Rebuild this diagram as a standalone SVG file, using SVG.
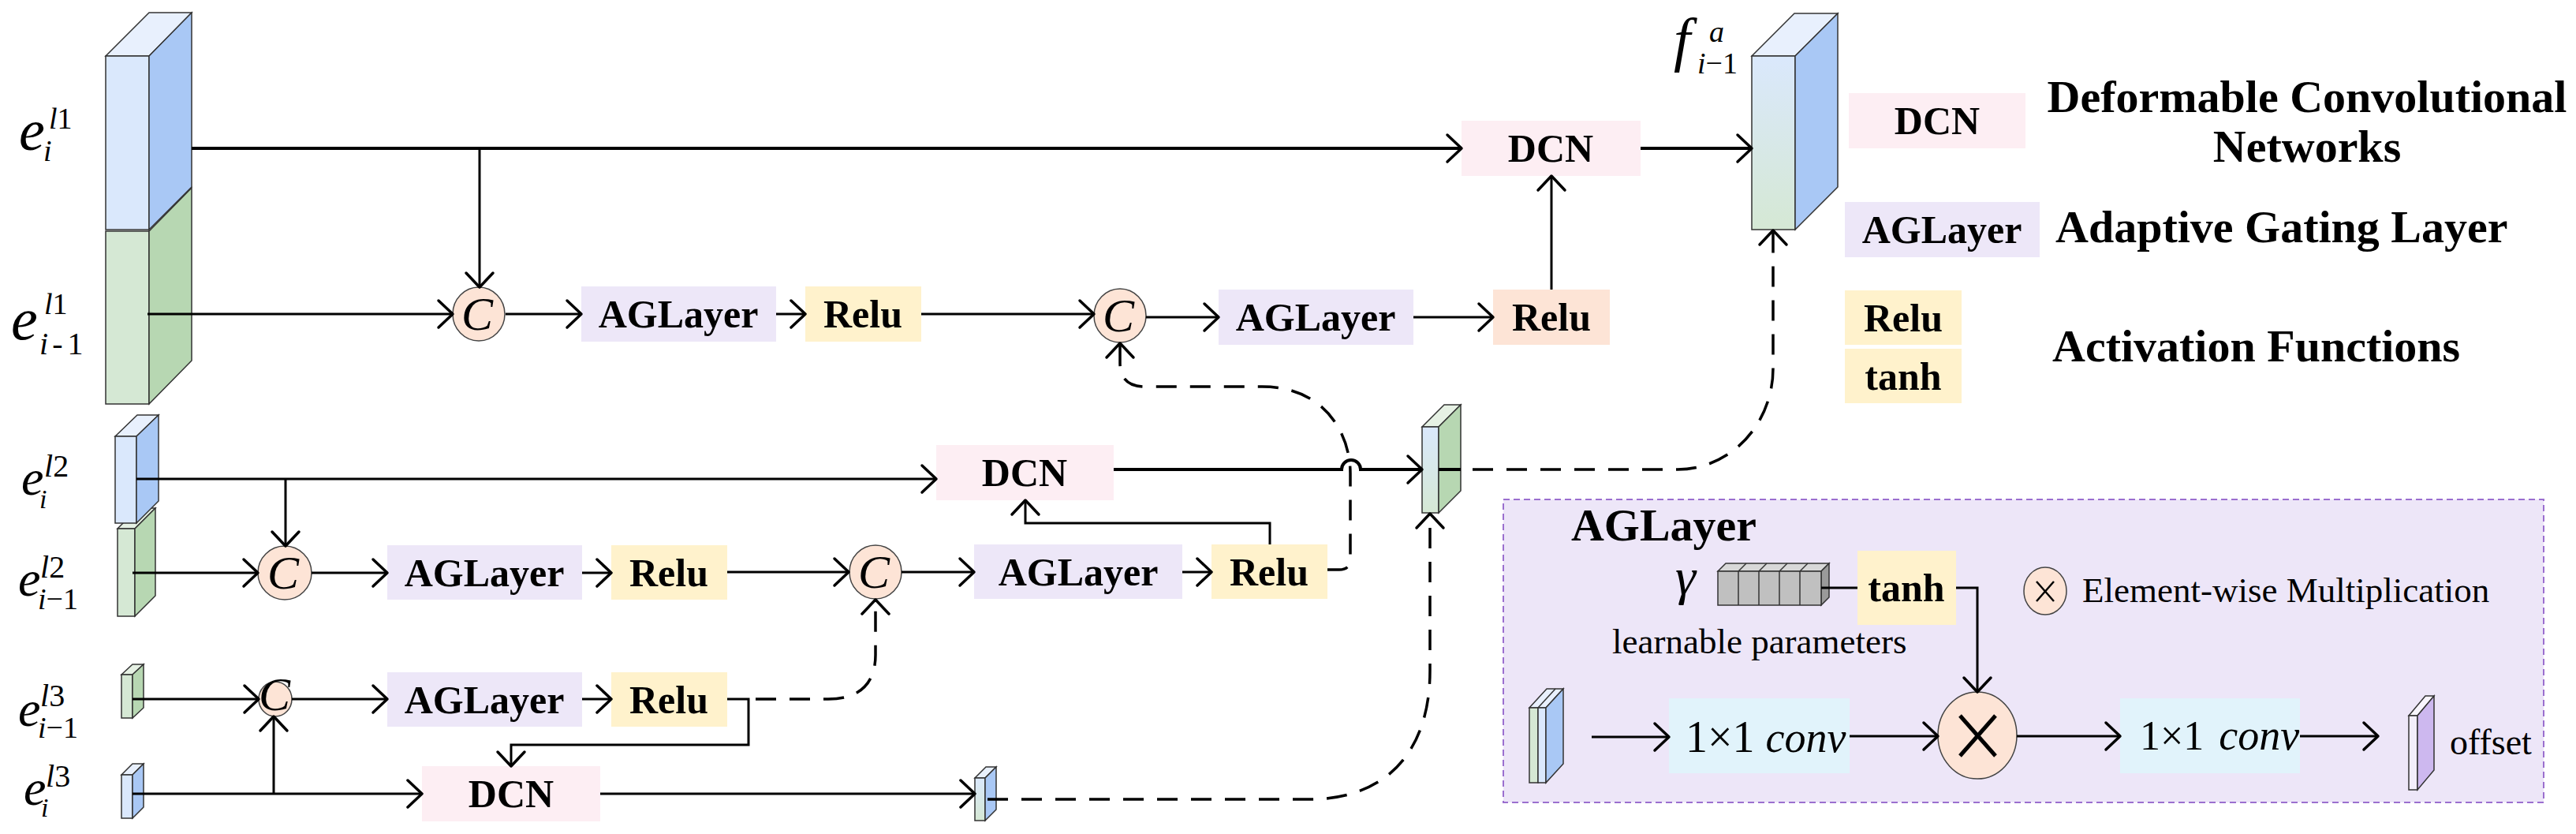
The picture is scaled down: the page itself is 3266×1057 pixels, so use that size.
<svg xmlns="http://www.w3.org/2000/svg" width="3266" height="1057" viewBox="0 0 3266 1057">
<style>
.ln{fill:none;stroke:#000;stroke-width:3}
.tk{fill:none;stroke:#000;stroke-width:4}
.ds{fill:none;stroke:#000;stroke-width:3.5;stroke-dasharray:26 17}
.lbl{font-family:"Liberation Serif","Times New Roman",serif;font-weight:bold;font-size:50px;text-anchor:middle;fill:#000}
.leg{font-family:"Liberation Serif","Times New Roman",serif;font-weight:bold;font-size:58px;fill:#000}
.reg{font-family:"Liberation Serif","Times New Roman",serif;fill:#000}
.it{font-family:"Liberation Serif","Times New Roman",serif;font-style:italic;fill:#000}
.ag{fill:#ede7f8}
.relu{fill:#fff2cc}
.relu2{fill:#fde4d6}
.dcn{fill:#fdeef3}
.conv{fill:#e1f3fb}
.cc{fill:#fde4d6;stroke:#444;stroke-width:1.5}
.ct{font-family:"Liberation Serif","Times New Roman",serif;font-style:italic;font-size:60px;text-anchor:middle;fill:#000}
.cb{stroke:#333;stroke-width:1.5}
.bf{fill:#dae8fc}.bs{fill:#a9c8f5}.bt{fill:#e8f0fd}
.gf{fill:#d5e8d4}.gs{fill:#b7d7b2}.gt{fill:#e6f1e4}
.gr{fill:url(#bg)}
</style>
<defs>
<linearGradient id="bg" x1="0" y1="0" x2="0" y2="1">
<stop offset="0" stop-color="#dae8fc"/><stop offset="1" stop-color="#d5e8d4"/>
</linearGradient>
<marker id="ar" markerUnits="userSpaceOnUse" markerWidth="24" markerHeight="38" refX="19" refY="18" orient="auto" overflow="visible">
<path d="M1,1 L19,18 L1,35" fill="none" stroke="#000" stroke-width="3.5" stroke-linecap="round" stroke-linejoin="round"/>
</marker>
</defs>
<rect width="3266" height="1057" fill="#fff"/>

<!-- AGLayer detail panel -->
<g id="aglayer-panel">
<rect x="1906" y="633" width="1319" height="384" fill="#ede6f8" stroke="#9b6fcf" stroke-width="2" stroke-dasharray="8 5"/>
<text class="leg" x="1992" y="685" font-size="56" textLength="235" lengthAdjust="spacingAndGlyphs">AGLayer</text>
<text class="it" x="2124" y="753" font-size="66">γ</text>
<g id="gamma-stack" class="cb">
<polygon points="2178,724 2188,714 2319,714 2309,724" fill="#d8d8d8"/>
<polygon points="2309,724 2319,714 2319,757 2309,767" fill="#9a9a9a"/>
<rect x="2178" y="724" width="131" height="43" fill="#c0c0c0"/>
<line x1="2204" y1="724" x2="2204" y2="767"/><line x1="2230" y1="724" x2="2230" y2="767"/>
<line x1="2256" y1="724" x2="2256" y2="767"/><line x1="2282" y1="724" x2="2282" y2="767"/>
<line x1="2204" y1="724" x2="2214" y2="714"/><line x1="2230" y1="724" x2="2240" y2="714"/>
<line x1="2256" y1="724" x2="2266" y2="714"/><line x1="2282" y1="724" x2="2292" y2="714"/>
</g>
<text class="reg" x="2044" y="828" font-size="45">learnable parameters</text>
<g id="p-tanh"><rect class="relu" x="2355" y="698" width="125" height="94"/><text class="lbl" x="2417" y="762" font-size="50">tanh</text></g>
<g id="p-mult-legend">
<ellipse class="cc" cx="2593" cy="749" rx="27" ry="30"/>
<line x1="2582" y1="737" x2="2604" y2="762" stroke="#000" stroke-width="2.5"/>
<line x1="2604" y1="737" x2="2582" y2="762" stroke="#000" stroke-width="2.5"/>
<text class="reg" x="2640" y="763" font-size="45">Element-wise Multiplication</text>
</g>
<g id="p-input" class="cb">
<polygon points="1939,897 1961,873 1982,873 1960,897" fill="#e8f0fd"/>
<line x1="1950" y1="897" x2="1972" y2="873"/>
<rect x="1939" y="897" width="11" height="95" fill="#d5e8d4"/>
<rect x="1950" y="897" width="10" height="95" fill="#dae8fc"/>
<polygon points="1960,897 1982,873 1982,968 1960,992" fill="#a9c8f5"/>
</g>
<g id="p-conv1"><rect class="conv" x="2116" y="885" width="229" height="95"/>
<text x="2137" y="953"><tspan class="reg" font-size="56">1×1 </tspan><tspan class="it" font-size="54">conv</tspan></text></g>
<g id="p-mult">
<ellipse class="cc" cx="2507" cy="932" rx="50" ry="55"/>
<line x1="2485" y1="907" x2="2530" y2="958" stroke="#000" stroke-width="5"/>
<line x1="2530" y1="907" x2="2485" y2="958" stroke="#000" stroke-width="5"/>
</g>
<g id="p-conv2"><rect class="conv" x="2688" y="885" width="228" height="95"/>
<text x="2713" y="950"><tspan class="reg" font-size="52">1×1 </tspan><tspan class="it" font-size="54" dx="6">conv</tspan></text></g>
<g id="p-offset" class="cb">
<polygon points="3054,907 3075,882 3086,882 3065,907" fill="#f8f5fd"/>
<rect x="3054" y="907" width="11" height="94" fill="#f3eefb"/>
<polygon points="3065,907 3086,882 3086,976 3065,1001" fill="#cdb8ef"/>
</g>
<text class="reg" x="3106" y="956" font-size="46">offset</text>
</g>

<!-- input feature blocks -->
<g id="e-l1">
<g class="cb">
<rect class="gf" x="134" y="293" width="55" height="219"/>
<polygon class="gs" points="189,293 243,238 243,457 189,512"/>
<polygon class="bt" points="134,71 189,16 243,16 189,71"/>
<rect class="bf" x="134" y="71" width="55" height="220"/>
<polygon class="bs" points="189,71 243,16 243,237 189,291"/>
</g>
<text class="it" x="24" y="190" font-size="74">e</text>
<text class="it" x="62" y="163" font-size="38">l<tspan font-style="normal">1</tspan></text>
<text class="it" x="55" y="204" font-size="38">i</text>
<text class="it" x="14" y="430" font-size="76">e</text>
<text class="it" x="56" y="398" font-size="38">l<tspan font-style="normal">1</tspan></text>
<text class="it" x="50" y="449" font-size="40">i<tspan font-style="normal" dx="5">-</tspan><tspan font-style="normal" dx="6">1</tspan></text>
</g>

<g id="e-l2">
<g class="cb">
<polygon class="gt" points="149,670 175,644 197,644 171,670"/>
<rect class="gf" x="149" y="670" width="22" height="111"/>
<polygon class="gs" points="171,670 197,644 197,755 171,781"/>
<polygon class="bt" points="146,553 174,526 201,526 173,553"/>
<rect class="bf" x="146" y="553" width="27" height="110"/>
<polygon class="bs" points="173,553 201,526 201,635 173,663"/>
</g>
<text class="it" x="27" y="627" font-size="64">e</text>
<text class="it" x="56" y="604" font-size="40">l<tspan font-style="normal">2</tspan></text>
<text class="it" x="50" y="644" font-size="34">i</text>
<text class="it" x="23" y="755" font-size="64">e</text>
<text class="it" x="51" y="732" font-size="40">l<tspan font-style="normal">2</tspan></text>
<text class="it" x="48" y="772" font-size="38">i<tspan font-style="normal">−1</tspan></text>
</g>

<g id="e-l3">
<g class="cb">
<polygon class="gt" points="154,855 168,842 182,842 168,855"/>
<rect class="gf" x="154" y="855" width="14" height="55"/>
<polygon class="gs" points="168,855 182,842 182,897 168,910"/>
<polygon class="bt" points="154,982 168,968 182,968 168,982"/>
<rect class="bf" x="154" y="982" width="14" height="55"/>
<polygon class="bs" points="168,982 182,968 182,1023 168,1037"/>
</g>
<text class="it" x="23" y="920" font-size="64">e</text>
<text class="it" x="51" y="895" font-size="40">l<tspan font-style="normal">3</tspan></text>
<text class="it" x="48" y="935" font-size="38">i<tspan font-style="normal">−1</tspan></text>
<text class="it" x="30" y="1020" font-size="64">e</text>
<text class="it" x="58" y="997" font-size="40">l<tspan font-style="normal">3</tspan></text>
<text class="it" x="52" y="1035" font-size="34">i</text>
</g>

<!-- processing nodes -->
<g id="c1"><ellipse class="cc" cx="607" cy="398" rx="33" ry="34"/><text class="ct" x="605" y="418">C</text></g>
<g id="ag1"><rect class="ag" x="737" y="363" width="247" height="70"/><text class="lbl" x="860" y="415">AGLayer</text></g>
<g id="relu1"><rect class="relu" x="1021" y="363" width="147" height="70"/><text class="lbl" x="1094" y="415">Relu</text></g>
<g id="c2"><ellipse class="cc" cx="1420" cy="400" rx="33" ry="34"/><text class="ct" x="1418" y="420">C</text></g>
<g id="ag2"><rect class="ag" x="1545" y="367" width="247" height="70"/><text class="lbl" x="1668" y="419">AGLayer</text></g>
<g id="relu2"><rect class="relu2" x="1893" y="367" width="148" height="70"/><text class="lbl" x="1967" y="419">Relu</text></g>
<g id="dcn1"><rect class="dcn" x="1853" y="153" width="227" height="70"/><text class="lbl" x="1966" y="205">DCN</text></g>

<g id="c3"><ellipse class="cc" cx="361" cy="726" rx="34" ry="34"/><text class="ct" x="359" y="746">C</text></g>
<g id="ag3"><rect class="ag" x="491" y="691" width="247" height="69"/><text class="lbl" x="614" y="743">AGLayer</text></g>
<g id="relu3"><rect class="relu" x="775" y="691" width="147" height="69"/><text class="lbl" x="848" y="743">Relu</text></g>
<g id="c5"><ellipse class="cc" cx="1110" cy="725" rx="33" ry="34"/><text class="ct" x="1108" y="745">C</text></g>
<g id="ag5"><rect class="ag" x="1235" y="690" width="264" height="69"/><text class="lbl" x="1367" y="742">AGLayer</text></g>
<g id="relu5"><rect class="relu" x="1536" y="690" width="147" height="69"/><text class="lbl" x="1609" y="742">Relu</text></g>
<g id="dcn2"><rect class="dcn" x="1187" y="564" width="225" height="70"/><text class="lbl" x="1299" y="616">DCN</text></g>

<g id="c4"><ellipse class="cc" cx="349" cy="886" rx="21" ry="22"/><text class="ct" x="348" y="900" font-size="40">C</text></g>
<g id="ag4"><rect class="ag" x="491" y="852" width="247" height="69"/><text class="lbl" x="614" y="904">AGLayer</text></g>
<g id="relu4"><rect class="relu" x="775" y="852" width="147" height="69"/><text class="lbl" x="848" y="904">Relu</text></g>
<g id="dcn3"><rect class="dcn" x="535" y="971" width="226" height="70"/><text class="lbl" x="648" y="1023">DCN</text></g>

<!-- intermediate / output feature blocks -->
<g id="mid-block" class="cb">
<polygon class="gt" points="1803,541 1831,513 1852,513 1824,541"/>
<rect class="gr" x="1803" y="541" width="21" height="109"/>
<polygon class="gs" points="1824,541 1852,513 1852,622 1824,650"/>
</g>
<g id="small-block" class="cb">
<polygon class="bt" points="1236,986 1250,972 1263,972 1249,986"/>
<rect class="gr" x="1236" y="986" width="13" height="54"/>
<polygon class="bs" points="1249,986 1263,972 1263,1026 1249,1040"/>
</g>
<g id="f-out">
<g class="cb">
<polygon class="bt" points="2221,71 2275,17 2330,17 2276,71"/>
<rect class="gr" x="2221" y="71" width="55" height="220"/>
<polygon class="bs" points="2276,71 2330,17 2330,237 2276,291"/>
</g>
<text class="it" x="2122" y="76" font-size="76">f</text>
<text class="it" x="2167" y="53" font-size="38">a</text>
<text class="it" x="2152" y="93" font-size="38">i<tspan font-style="normal">−1</tspan></text>
</g>

<!-- legend -->
<g id="legend">
<rect class="dcn" x="2344" y="118" width="224" height="70"/><text class="lbl" x="2456" y="170">DCN</text>
<text class="leg" x="2925" y="142" font-size="56" text-anchor="middle">Deformable Convolutional</text>
<text class="leg" x="2925" y="205" font-size="56" text-anchor="middle">Networks</text>
<rect class="ag" x="2339" y="256" width="247" height="70"/><text class="lbl" x="2462" y="308">AGLayer</text>
<text class="leg" x="2606" y="307">Adaptive Gating Layer</text>
<rect class="relu" x="2339" y="368" width="148" height="69"/><text class="lbl" x="2413" y="420">Relu</text>
<rect class="relu" x="2339" y="442" width="148" height="69"/><text class="lbl" x="2413" y="494">tanh</text>
<text class="leg" x="2602" y="458">Activation Functions</text>
</g>

<!-- connectors -->
<g id="connectors">
<path class="tk" d="M243 188 L1853 188" marker-end="url(#ar)"/>
<path class="ln" d="M608 188 L608 364" marker-end="url(#ar)"/>
<path class="ln" d="M187 398 L574 398" marker-end="url(#ar)"/>
<path class="ln" d="M641 398 L737 398" marker-end="url(#ar)"/>
<path class="ln" d="M984 398 L1021 398" marker-end="url(#ar)"/>
<path class="ln" d="M1168 398 L1387 398" marker-end="url(#ar)"/>
<path class="ln" d="M1453 402 L1545 402" marker-end="url(#ar)"/>
<path class="ln" d="M1792 402 L1893 402" marker-end="url(#ar)"/>
<path class="ln" d="M1967 367 L1967 223" marker-end="url(#ar)"/>
<path class="tk" d="M2080 188 L2221 188" marker-end="url(#ar)"/>

<path class="ln" d="M173 607 L1187 607" marker-end="url(#ar)"/>
<path class="ln" d="M362 607 L362 692" marker-end="url(#ar)"/>
<path class="ln" d="M168 726 L327 726" marker-end="url(#ar)"/>
<path class="ln" d="M395 726 L491 726" marker-end="url(#ar)"/>
<path class="ln" d="M738 726 L775 726" marker-end="url(#ar)"/>
<path class="ln" d="M922 725 L1076 725" marker-end="url(#ar)"/>
<path class="ln" d="M1143 725 L1235 725" marker-end="url(#ar)"/>
<path class="ln" d="M1499 725 L1536 725" marker-end="url(#ar)"/>
<path class="ln" d="M1610 690 L1610 663 L1300 663 L1300 634" marker-end="url(#ar)"/>
<path class="tk" d="M1412 595 L1701 595 A12 12 0 0 1 1725 595 L1803 595" marker-end="url(#ar)"/>
<path class="tk" d="M1824 595 L1852 595"/>

<path class="ln" d="M168 886 L328 886" marker-end="url(#ar)"/>
<path class="ln" d="M370 886 L491 886" marker-end="url(#ar)"/>
<path class="ln" d="M738 886 L775 886" marker-end="url(#ar)"/>
<path class="ln" d="M922 886 L949 886 L949 944 L648 944 L648 971" marker-end="url(#ar)"/>
<path class="ln" d="M168 1006 L535 1006" marker-end="url(#ar)"/>
<path class="ln" d="M347 1006 L347 908" marker-end="url(#ar)"/>
<path class="ln" d="M761 1006 L1236 1006" marker-end="url(#ar)"/>

<path class="ds" d="M958 886 L1050 886 C1090 886 1110 866 1110 830 L1110 760" marker-end="url(#ar)"/>
<path class="ds" d="M1683 722 L1698 722 Q1712 722 1712 708 L1712 600 C1712 550 1680 490 1600 490 L1452 490 Q1420 490 1420 460 L1420 435" marker-end="url(#ar)"/>
<path class="ds" d="M1252 1013 L1660 1013 C1760 1013 1813 950 1813 850 L1813 651" marker-end="url(#ar)"/>
<path class="ds" d="M1867 595 L2127 595 A121 128 0 0 0 2248 467 L2248 292" marker-end="url(#ar)"/>

<path class="ln" d="M2309 745 L2355 745"/>
<path class="ln" d="M2480 745 L2507 745 L2507 877" marker-end="url(#ar)"/>
<path class="ln" d="M2018 934 L2116 934" marker-end="url(#ar)"/>
<path class="ln" d="M2345 933 L2457 933" marker-end="url(#ar)"/>
<path class="ln" d="M2557 933 L2688 933" marker-end="url(#ar)"/>
<path class="ln" d="M2916 933 L3015 933" marker-end="url(#ar)"/>
</g>
</svg>
